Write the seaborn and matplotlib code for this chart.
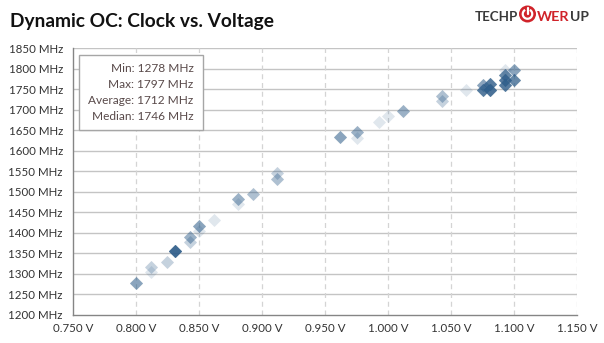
import matplotlib
matplotlib.use("Agg")
import matplotlib.pyplot as plt
import numpy as np
import pandas as pd
import seaborn as sns
from matplotlib.patches import Rectangle, Circle, Arc
from matplotlib.lines import Line2D

# ---- data ----
voltage = [0.800, 0.812, 0.812, 0.825, 0.831, 0.843, 0.843, 0.850, 0.850, 0.862,
           0.881, 0.881, 0.893, 0.912, 0.912, 0.962, 0.975, 0.975, 0.993, 1.000,
           1.012, 1.043, 1.043, 1.062, 1.075, 1.075, 1.081, 1.081, 1.093, 1.093,
           1.093, 1.093, 1.100, 1.100]
clock = [1278, 1315, 1303, 1328, 1354, 1390, 1378, 1417, 1405, 1431,
         1481, 1469, 1494, 1545, 1530, 1633, 1645, 1632, 1670, 1684,
         1697, 1733, 1721, 1748, 1761, 1748, 1763, 1748, 1797, 1785,
         1773, 1760, 1797, 1773]
samples = [5, 2, 1, 2, 15, 4, 2, 5, 1, 1,
           4, 1, 3, 2, 3, 5, 4, 1, 1, 1,
           4, 3, 2, 1, 5, 10, 10, 12, 1, 8,
           10, 10, 5, 8]

x_ticks = [0.750, 0.800, 0.850, 0.900, 0.950, 1.000, 1.050, 1.100, 1.150]
y_ticks = [1200, 1250, 1300, 1350, 1400, 1450, 1500, 1550, 1600, 1650, 1700,
           1750, 1800, 1850]
stat_names = ["Min", "Max", "Average", "Median"]
stat_values = [1278, 1797, 1712, 1746]
title = "Dynamic OC: Clock vs. Voltage"

# ---- build table: one row per sample ----
df = pd.DataFrame({"voltage": voltage, "clock": clock, "samples": samples})
df = df.loc[df.index.repeat(df["samples"])].reset_index(drop=True)

sns.set_style("white")
plt.rcParams["font.family"] = ["Lato", "DejaVu Sans"]

W, H = 604, 343
fig = plt.figure(figsize=(W / 100, H / 100), dpi=100)
ax = fig.add_axes([72.7 / W, 1 - 314.5 / H, (577.3 - 72.7) / W, (314.5 - 48.3) / H])

sns.scatterplot(data=df, x="voltage", y="clock", marker="D", s=44,
                color="#2f5f8c", alpha=0.15, linewidth=0, ax=ax, zorder=3)

ax.set_xlim(x_ticks[0], x_ticks[-1])
ax.set_ylim(y_ticks[0], y_ticks[-1])
ax.set_xticks(x_ticks)
ax.set_yticks(y_ticks)
ax.set_xticklabels([f"{v:.3f} V" for v in x_ticks])
ax.set_yticklabels([f"{v} MHz" for v in y_ticks])
ax.set_xlabel("")
ax.set_ylabel("")

ax.grid(False)
for yv in y_ticks[1:]:
    ax.axhline(yv, color="#c4c4c4", lw=1.0, zorder=1)
for xv in x_ticks[1:]:
    ax.axvline(xv, color="#d4d4d4", lw=0.9, ls=(0, (4, 3)), zorder=1)

for s in ["top", "right"]:
    ax.spines[s].set_visible(False)
for s in ["left", "bottom"]:
    ax.spines[s].set_color("#858585")
    ax.spines[s].set_linewidth(1.0)
ax.tick_params(axis="both", direction="out", length=4, width=1, color="#858585",
               labelsize=8.3, labelcolor="#333333", pad=2)
ax.tick_params(axis="y", pad=3)

# ---- stats box ----
def px(x, y):
    return x / W, 1 - y / H

bx0, by0, bx1, by1 = 79.3, 54.7, 202.7, 129.7
fig.add_artist(Rectangle(px(bx0, by1), (bx1 - bx0) / W, (by1 - by0) / H,
                         transform=fig.transFigure, facecolor="white",
                         edgecolor="#a6a6a6", lw=1.0, zorder=5))
for i, (n, v) in enumerate(zip(stat_names, stat_values)):
    ty = [68.7, 84.0, 100.3, 117.0][i]
    fig.text(*px(193.5, ty), f"{n}: {v} MHz", ha="right", va="center",
             fontsize=8.6, color="#594a4a", zorder=6)

# ---- title ----
fig.text(*px(9.5, 27), title, ha="left", va="baseline", fontsize=13.8,
         fontweight="bold", color="#111111")

# ---- logo ----
fig.text(*px(475, 21), "TECHP", ha="left", va="baseline", fontsize=9.6,
         fontweight="bold", color="#3a3a3a")
cx, cy, r = 527.5, 14.0, 8.5
ctr = (cx / 100, (H - cy) / 100)
fig.add_artist(Circle(ctr, r / 100, transform=fig.dpi_scale_trans,
                      facecolor="#d0232a", edgecolor="none", zorder=7))
fig.add_artist(Arc(ctr, 9.5 / 100, 9.5 / 100, theta1=120, theta2=60,
                   transform=fig.dpi_scale_trans, color="white", lw=1.6, zorder=8))
fig.add_artist(Line2D([cx / 100, cx / 100], [(H - cy) / 100, (H - cy + 6) / 100],
                      transform=fig.dpi_scale_trans, color="white", lw=1.6, zorder=9))
t_wer = fig.text(*px(537, 21), "WER", ha="left", va="baseline", fontsize=10.4,
                 fontweight="bold", color="#d0232a")
fig.canvas.draw()
bb = t_wer.get_window_extent()
fig.text(bb.x1 / W + 0.5 / W, 1 - 21 / H, "UP", ha="left", va="baseline",
         fontsize=10.0, fontweight="bold", color="#3a3a3a")

fig.savefig("out.png", dpi=100, facecolor="white")
